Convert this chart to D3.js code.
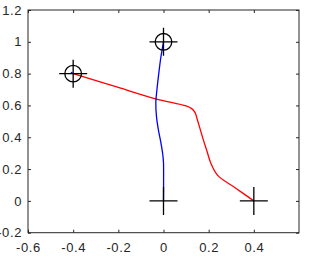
<!DOCTYPE html>
<html lang="en">
<head>
<meta charset="UTF-8">
<title>Trajectories</title>
<style>
    body { margin: 0; background: #fff; }
    svg text { font-family: "Liberation Sans", Arial, sans-serif; font-size: 13px; fill: #262626; letter-spacing: 0.6px; }
</style>
</head>
<body>
<svg width="311" height="257"></svg>
<script src="https://d3js.org/d3.v7.min.js"></script>
<script>
    // data
    const xTicks = [-0.6, -0.4, -0.2, 0, 0.2, 0.4];
    const yTicks = [-0.2, 0, 0.2, 0.4, 0.6, 0.8, 1, 1.2];
    const redPath = [[-0.4, 0.8], [-0.2, 0.713], [-0.035, 0.642], [0.1, 0.597], [0.125, 0.58],
        [0.14, 0.555], [0.15, 0.51], [0.162, 0.453], [0.176, 0.385], [0.192, 0.315],
        [0.21, 0.235], [0.24, 0.16], [0.32, 0.08], [0.4, 0]];
    const bluePath = [[0, 1], [-0.012, 0.9], [-0.021, 0.8], [-0.029, 0.7], [-0.034, 0.62],
        [-0.031, 0.53], [-0.023, 0.45], [-0.012, 0.37], [-0.004, 0.3], [0, 0.24], [0, 0]];
    const blueStub = [[-0.4, 0.8], [-0.41, 0.808]];
    const plusPoints = [[-0.4, 0.8], [0, 1], [0, 0], [0.4, 0]];
    const circlePoints = [[-0.4, 0.8], [0, 1]];

    const svg = d3.select("svg");
    const boxL = 28, boxR = 299, boxT = 10, boxB = 232.7;

    const x = d3.scaleLinear().domain([-0.6, 0.6]).range([boxL, boxR]);
    const y = d3.scaleLinear().domain([-0.2, 1.2]).range([boxB, boxT]);
    const fmt = v => String(+v.toFixed(1));

    const axisColor = "#262626";

    // ticks, pointing inwards on all four sides
    svg.append("g").attr("transform", `translate(0,${boxB})`)
        .call(d3.axisBottom(x).tickValues(xTicks).tickFormat(fmt).tickSizeInner(-3).tickSizeOuter(0).tickPadding(10))
        .call(g => g.select(".domain").remove());
    svg.append("g").attr("transform", `translate(0,${boxT})`)
        .call(d3.axisTop(x).tickValues(xTicks).tickFormat("").tickSizeInner(-3).tickSizeOuter(0))
        .call(g => g.select(".domain").remove());
    svg.append("g").attr("transform", `translate(${boxL},0)`)
        .call(d3.axisLeft(y).tickValues(yTicks).tickFormat(fmt).tickSizeInner(-3).tickSizeOuter(0).tickPadding(6))
        .call(g => g.select(".domain").remove());
    svg.append("g").attr("transform", `translate(${boxR},0)`)
        .call(d3.axisRight(y).tickValues(yTicks).tickFormat("").tickSizeInner(-3).tickSizeOuter(0))
        .call(g => g.select(".domain").remove());

    svg.selectAll(".tick line").attr("stroke", axisColor);
    svg.selectAll(".tick text").attr("fill", axisColor);
    svg.selectAll("g").attr("font-size", null).attr("font-family", null);

    svg.append("rect")
        .attr("x", boxL).attr("y", boxT)
        .attr("width", boxR - boxL).attr("height", boxB - boxT)
        .attr("fill", "none").attr("stroke", axisColor).attr("stroke-width", 1);

    const smooth = d3.line().x(d => x(d[0])).y(d => y(d[1])).curve(d3.curveCatmullRom.alpha(0.5));
    const straight = d3.line().x(d => x(d[0])).y(d => y(d[1]));

    svg.append("path").attr("d", smooth(redPath))
        .attr("fill", "none").attr("stroke", "#ff0000").attr("stroke-width", 1.3);
    svg.append("path").attr("d", smooth(bluePath))
        .attr("fill", "none").attr("stroke", "#0000ff").attr("stroke-width", 1.3);
    svg.append("path").attr("d", straight(blueStub))
        .attr("fill", "none").attr("stroke", "#0000ff").attr("stroke-width", 1.3);

    const arm = 14;
    const plus = svg.append("g").attr("stroke", "#000").attr("stroke-width", 1.3).attr("fill", "none");
    plus.selectAll("path").data(plusPoints).join("path")
        .attr("d", d => `M${x(d[0]) - arm},${y(d[1])}H${x(d[0]) + arm}M${x(d[0])},${y(d[1]) - arm}V${y(d[1]) + arm}`);
    plus.selectAll("circle").data(circlePoints).join("circle")
        .attr("cx", d => x(d[0])).attr("cy", d => y(d[1])).attr("r", 8.3);
</script>
</body>
</html>
